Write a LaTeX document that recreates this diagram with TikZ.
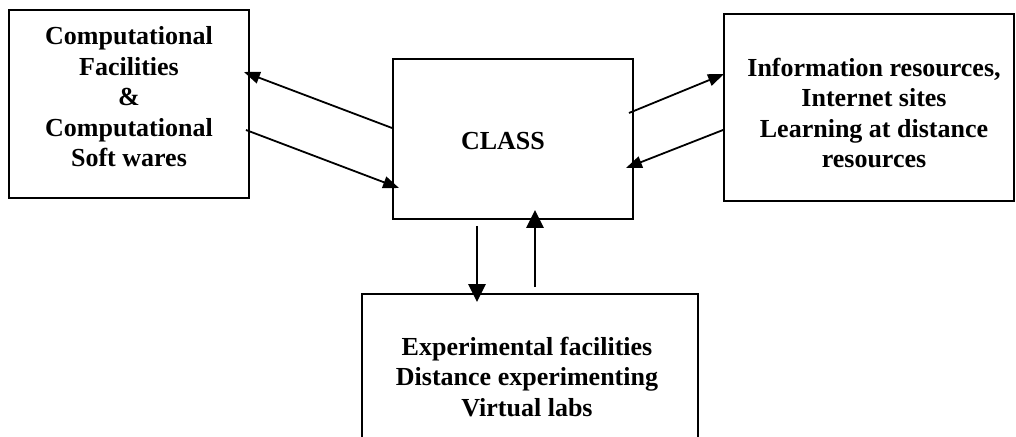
\documentclass[tikz,border=0pt]{standalone}
\usepackage{fontspec}
\setmainfont{Liberation Serif}
\usetikzlibrary{arrows.meta}

\tikzstyle{box} = [draw, line width=1.9pt, inner sep=0pt]
\tikzstyle{txt} = [align=center, font=\fontsize{26}{30.5}\selectfont\bfseries, inner sep=0pt]
\tikzstyle{thin} = [line width=1.8pt, -{Triangle[length=16pt,width=12pt]}]
\tikzstyle{thick} = [line width=2.8pt, -{Triangle[length=18pt,width=17pt]}]

\begin{document}
\begin{tikzpicture}[x=1pt,y=1pt]
\useasboundingbox (0,0) rectangle (1016,436);
\clip (0,0) rectangle (1016,436);
% boxes
\node[box, minimum width=240pt, minimum height=188pt] (comp) at (129,332) {};
\node[box, minimum width=240pt, minimum height=160pt] (cls) at (513,297) {};
\node[box, minimum width=290pt, minimum height=187pt] (info) at (869,328.5) {};
\node[box, minimum width=336pt, minimum height=170pt] (exp) at (530,57) {};
% texts
\node[txt] (comptxt) at (129,339) {Computational\\Facilities\\\&\\Computational\\Soft wares};
\node[txt] (clstxt) at (503,295) {CLASS};
\node[txt] (infotxt) at (874,323) {Information resources,\\Internet sites\\Learning at distance\\resources};
\node[txt] (exptxt) at (527,59) {Experimental facilities\\Distance experimenting\\Virtual labs};
% arrows
\draw[thin] ([yshift=11pt]cls.west) -- ([xshift=-6pt,yshift=32pt]comp.east);
\draw[thin] ([xshift=-4pt,yshift=-26pt]comp.east) -- ([xshift=7pt,yshift=-49pt]cls.west);
\draw[thin] ([xshift=-5pt,yshift=26pt]cls.east) -- ([xshift=1pt,yshift=33.5pt]info.west);
\draw[thin] ([yshift=-22.5pt]info.west) -- ([xshift=-8pt,yshift=-29pt]cls.east);
\draw[thick] ([xshift=-36pt,yshift=-6pt]cls.south) -- ([xshift=-53pt,yshift=-9pt]exp.north);
\draw[thick] ([xshift=5pt,yshift=6pt]exp.north) -- ([xshift=22pt,yshift=10pt]cls.south);
\end{tikzpicture}
\end{document}
